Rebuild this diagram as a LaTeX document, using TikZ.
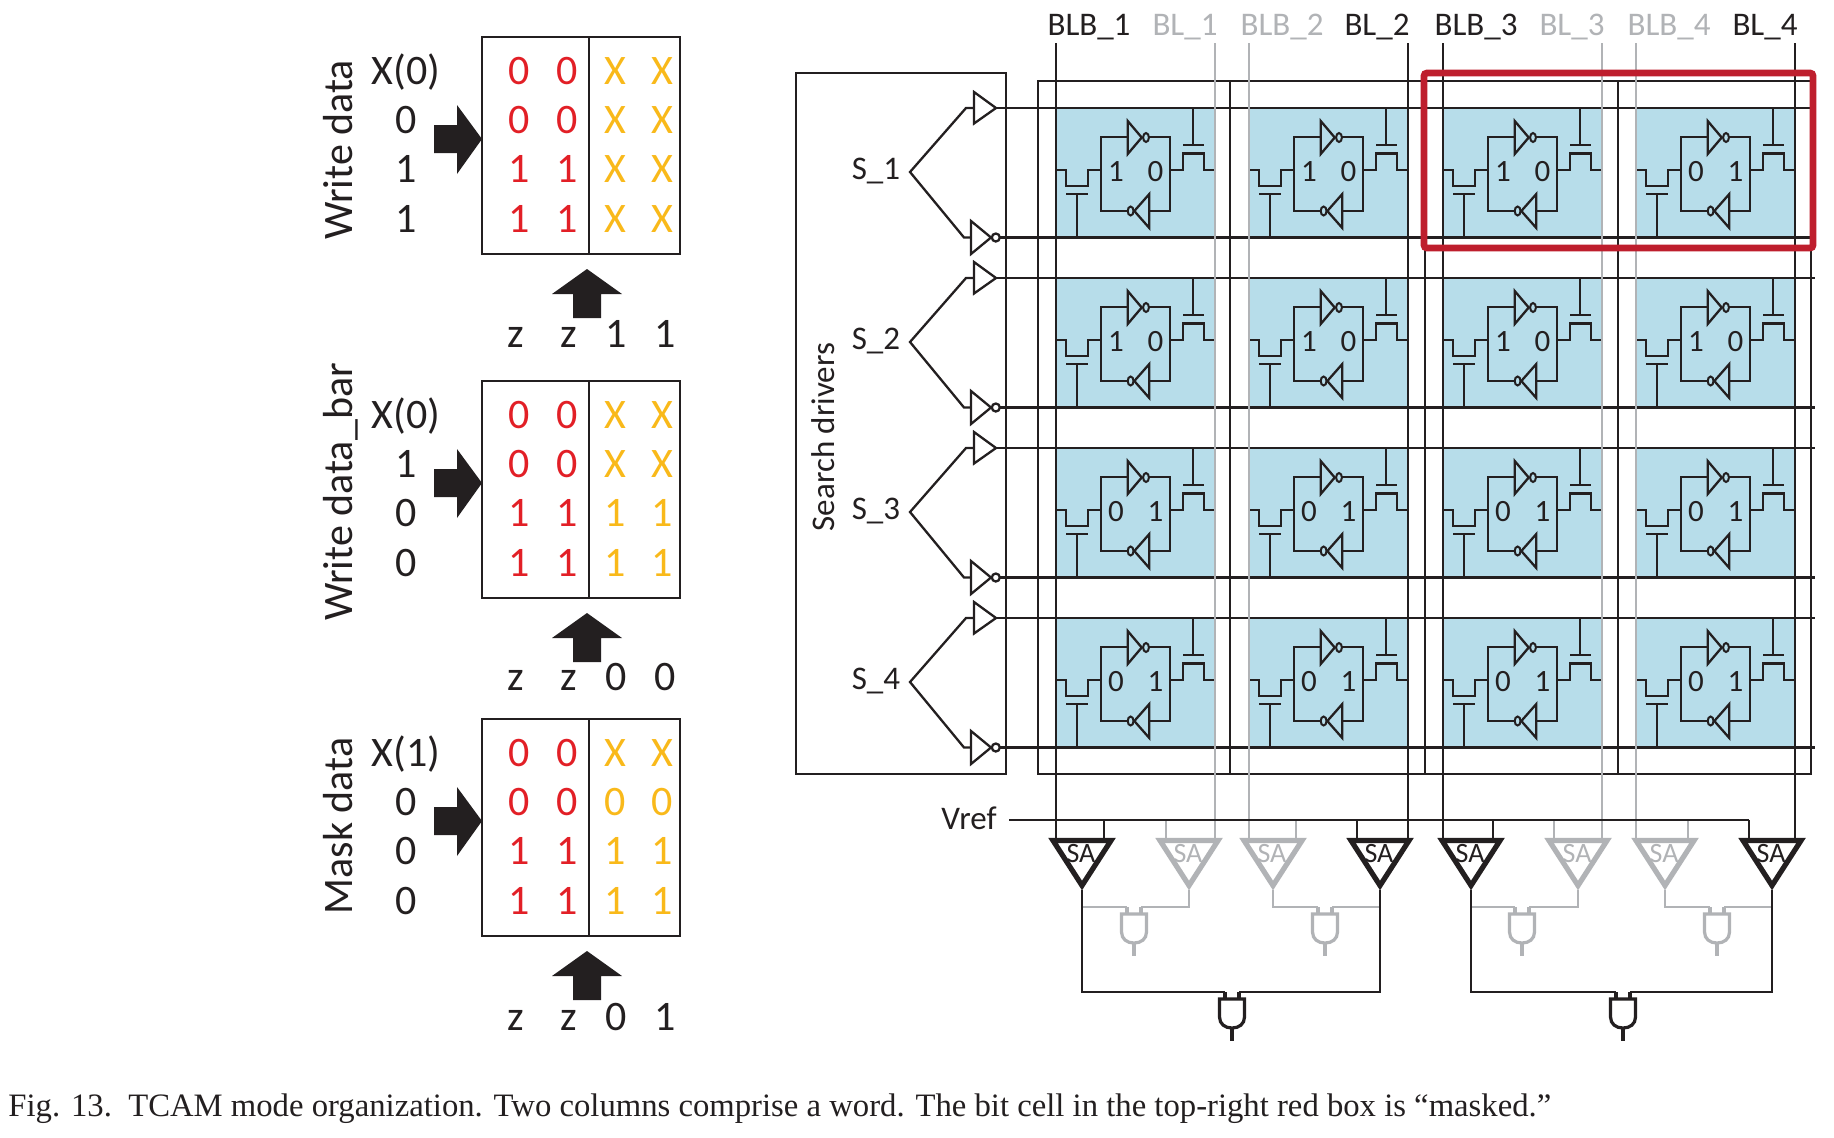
\documentclass[tikz,border=0pt]{standalone}
\usepackage{fontspec}
\setmainfont{Carlito}
\newfontfamily\capfont{Liberation Serif}
\definecolor{ink}{HTML}{231F20}
\definecolor{gr}{HTML}{B1B3B6}
\definecolor{cellblue}{HTML}{B7DDEA}
\definecolor{redbox}{HTML}{BE1E2D}
\definecolor{redtxt}{HTML}{E21F26}
\definecolor{yel}{HTML}{F9B91A}
\tikzset{
  wire/.style={draw=ink,line width=1.15pt},
  grwire/.style={draw=gr,line width=1.4pt},
  big/.style={font=\fontsize{21}{21}\selectfont,inner sep=0pt,anchor=base,text=ink},
  mid/.style={font=\fontsize{16.5}{16.5}\selectfont,inner sep=0pt,anchor=base,text=ink},
  small/.style={font=\fontsize{15.5}{15.5}\selectfont,inner sep=0pt,anchor=base,text=ink},
  satext/.style={font=\fontsize{14}{14}\selectfont,inner sep=0pt,anchor=center},
  block/.style={fill=ink,draw=none},
}
\newcommand{\bitcell}[5]{%
 \begin{scope}[shift={(#2,#3)}]
  \fill[cellblue] (0,0) rectangle (159,129.5);
  \draw[wire] (71.7,29) -- (45,29) -- (45,103) -- (71.8,103);
  \draw[wire] (93,29) -- (114,29) -- (114,103) -- (93.3,103);
  \draw[wire] (71.7,13) -- (71.7,46) -- (85.7,29.5) -- cycle;
  \draw[wire,line width=1pt] (90,29.5) ellipse [x radius=2.9,y radius=4.5];
  \draw[wire] (93.3,86) -- (93.3,120) -- (78.3,103) -- cycle;
  \draw[wire,line width=1pt] (74.6,103) ellipse [x radius=2.9,y radius=4.5];
  \draw[wire] (0,62) -- (10,62) -- (10,78) -- (32,78) -- (32,62) -- (45,62);
  \draw[wire] (10,86) -- (32,86) (21,86) -- (21,129.5);
  \draw[wire] (114,62) -- (127,62) -- (127,45.5) -- (148,45.5) -- (148,62) -- (158,62);
  \draw[wire] (127,37) -- (148,37) (137,37) -- (137,0);
  \node[small] (#1a) at (60,73) {#4};
  \node[small] (#1b) at (99.5,73) {#5};
 \end{scope}}
\newcommand{\driver}[3]{%
  \coordinate (d#1tail) at (910,#2+64);
  \coordinate (d#1up) at (966,#2);
  \coordinate (d#1upin) at (974,#2);
  \coordinate (d#1upout) at (996,#2);
  \coordinate (d#1lo) at (964,#2+129.5);
  \coordinate (d#1loin) at (971,#2+129.5);
  \coordinate (d#1loout) at (1000,#2+129.5);
  \coordinate (d#1upend) at (1815,#2);
  \coordinate (d#1loend) at (1815,#2+129.5);
  \node[mid] (s#1) at (876,#2+71) {#3};
  \draw[wire] (d#1upin) -- (d#1up) -- (d#1tail) -- (d#1lo) -- (d#1loin);
  \draw[wire] (974,#2-16) -- (974,#2+15.5) -- (d#1upout) -- cycle;
  \draw[wire] (971,#2+113) -- (971,#2+146) -- (991,#2+129.5) -- cycle;
  \draw[wire] (995.8,#2+129.5) circle (4);
  \draw[wire] (d#1upout) -- (d#1upend);
  \draw[wire] (d#1loout) -- (d#1loend);
}
% id, centre x, colour
\newcommand{\senseamp}[3]{%
  \draw[draw=#3,line width=2.6pt] (#2-29,840.5) -- (#2+29,840.5) -- (#2,885.5) -- cycle;
  \node[satext,text=#3] (#1txt) at (#2-1,853) {SA};
  \coordinate (#1out) at (#2,890);
}
% id, centre x, top y, colour
\newcommand{\andgate}[4]{%
  \coordinate (#1a) at (#2-7,#3-7);
  \coordinate (#1b) at (#2+7,#3-7);
  \draw[draw=#4,line width=1.6pt] (#2-7,#3-7) -- (#2-7,#3) (#2+7,#3-7) -- (#2+7,#3);
  \draw[draw=#4,line width=1.6pt] (#2-12.5,#3) -- (#2+12.5,#3) -- (#2+12.5,#3+18)
     .. controls (#2+12.5,#3+25) and (#2+7,#3+29) .. (#2,#3+29)
     .. controls (#2-7,#3+29) and (#2-12.5,#3+25) .. (#2-12.5,#3+18) -- cycle;
  \draw[draw=#4,line width=1.6pt] (#2,#3+29) -- (#2,#3+42);
}
% id, top, arrow-label baseline, left list, yellow list, bottom list
\newcommand{\datapanel}[6]{%
  \draw[wire] (482,#2) rectangle (680,#2+217);
  \draw[wire] (589,#2) -- (589,#2+217);
  \foreach \i/\s in {#4}
    \node[big] (#1l\i) at (406,{#2+47+49.4*\i}) {\s};
  \foreach \i/\a/\b in {0/0/0,1/0/0,2/1/1,3/1/1}{
    \node[big,text=redtxt] (#1r\i a) at (519,{#2+47+49.4*\i}) {\a};
    \node[big,text=redtxt] (#1r\i b) at (567,{#2+47+49.4*\i}) {\b};
  }
  \foreach \i/\a in {#5}{
    \node[big,text=yel] (#1y\i a) at (615,{#2+47+49.4*\i}) {\a};
    \node[big,text=yel] (#1y\i b) at (662,{#2+47+49.4*\i}) {\a};
  }
  \fill[block] (434,#2+88) -- (457,#2+88) -- (457,#2+68) -- (482,#2+102) -- (457,#2+137) -- (457,#2+116) -- (434,#2+116) -- cycle;
  \fill[block] (573,#2+281) -- (573,#2+257) -- (552,#2+257) -- (587,#2+232) -- (622,#2+257) -- (601,#2+257) -- (601,#2+281) -- cycle;
  \foreach \x/\s in {#6}
    \node[big] (#1b\x) at (\x,#3) {\s};
}
\begin{document}
\begin{tikzpicture}[x=0.5pt,y=-0.5pt]
\useasboundingbox (0,0) rectangle (1834,1137);
\fill[white] (0,0) rectangle (1834,1137);

% left panels
\datapanel{A}{37}{347}{0/X(0),1/0,2/1,3/1}{0/X,1/X,2/X,3/X}{516/z,569/z,616/1,665/1}
\datapanel{B}{381}{690}{0/X(0),1/1,2/0,3/0}{0/X,1/X,2/1,3/1}{516/z,569/z,616/0,665/0}
\datapanel{C}{719}{1030}{0/X(1),1/0,2/0,3/0}{0/X,1/0,2/1,3/1}{516/z,569/z,616/0,665/1}
\node[big,rotate=90] (tA) at (352,150) {Write data};
\node[big,rotate=90] (tB) at (352,492) {Write data\_bar};
\node[big,rotate=90] (tC) at (352,826) {Mask data};

% bit cells
\bitcell{r1c1}{1056}{108}{1}{0}
\bitcell{r1c2}{1249}{108}{1}{0}
\bitcell{r1c3}{1443}{108}{1}{0}
\bitcell{r1c4}{1636}{108}{0}{1}
\bitcell{r2c1}{1056}{278}{1}{0}
\bitcell{r2c2}{1249}{278}{1}{0}
\bitcell{r2c3}{1443}{278}{1}{0}
\bitcell{r2c4}{1636}{278}{1}{0}
\bitcell{r3c1}{1056}{448}{0}{1}
\bitcell{r3c2}{1249}{448}{0}{1}
\bitcell{r3c3}{1443}{448}{0}{1}
\bitcell{r3c4}{1636}{448}{0}{1}
\bitcell{r4c1}{1056}{618}{0}{1}
\bitcell{r4c2}{1249}{618}{0}{1}
\bitcell{r4c3}{1443}{618}{0}{1}
\bitcell{r4c4}{1636}{618}{0}{1}

% frames
\draw[wire] (796,73) rectangle (1006,774);
\draw[wire] (1038,81) rectangle (1811,774);
\draw[wire] (1230,81) -- (1230,774) (1425,81) -- (1425,774) (1618,81) -- (1618,774);
\node[mid,rotate=90] (sd) at (834,437) {Search drivers};

% drivers
\driver{1}{108}{S\_1}
\driver{2}{278}{S\_2}
\driver{3}{448}{S\_3}
\driver{4}{618}{S\_4}

% bit-line labels
\node[mid] (l1) at (1089,35) {BLB\_1};
\node[mid,text=gr] (l2) at (1185,35) {BL\_1};
\node[mid,text=gr] (l3) at (1282,35) {BLB\_2};
\node[mid] (l4) at (1377,35) {BL\_2};
\node[mid] (l5) at (1476,35) {BLB\_3};
\node[mid,text=gr] (l6) at (1572,35) {BL\_3};
\node[mid,text=gr] (l7) at (1669,35) {BLB\_4};
\node[mid] (l8) at (1765,35) {BL\_4};

% Vref
\node[mid] (vref) at (969,829) {Vref};
\coordinate (vs) at (1009,820);
\coordinate (ve) at (1749,820);

% gray inputs and outputs first
\foreach \x in {1166,1296,1554,1688}
  \draw[grwire] (\x,820) -- (\x,840);
\foreach \x in {1215,1249,1602,1636}
  \draw[grwire] (\x,43) -- (\x,840);
\foreach \x in {1104,1357,1493,1749}
  \draw[wire] (\x,820) -- (\x,840);
\foreach \x in {1056,1408,1443,1795}
  \draw[wire] (\x,43) -- (\x,840);
\draw[wire] (vs) -- (ve);

% sense amplifiers
\senseamp{sa1}{1082}{ink}
\senseamp{sa2}{1189}{gr}
\senseamp{sa3}{1273}{gr}
\senseamp{sa4}{1380}{ink}
\senseamp{sa5}{1471}{ink}
\senseamp{sa6}{1578}{gr}
\senseamp{sa7}{1665}{gr}
\senseamp{sa8}{1772}{ink}

% and gates
\andgate{g1}{1134}{914}{gr}
\andgate{g2}{1325}{914}{gr}
\andgate{g3}{1522}{914}{gr}
\andgate{g4}{1717}{914}{gr}
\andgate{g5}{1232}{999}{ink}
\andgate{g6}{1623}{999}{ink}

\draw[grwire] (sa1out) |- (g1a);
\draw[grwire] (sa2out) |- (g1b);
\draw[grwire] (sa3out) |- (g2a);
\draw[grwire] (sa4out) |- (g2b);
\draw[grwire] (sa5out) |- (g3a);
\draw[grwire] (sa6out) |- (g3b);
\draw[grwire] (sa7out) |- (g4a);
\draw[grwire] (sa8out) |- (g4b);
\draw[wire,line width=1.3pt] (sa1out) |- (g5a);
\draw[wire,line width=1.3pt] (sa4out) |- (g5b);
\draw[wire,line width=1.3pt] (sa5out) |- (g6a);
\draw[wire,line width=1.3pt] (sa8out) |- (g6b);

% red box
\draw[redbox,line width=3.4pt,rounded corners=1.5pt] (1424,73) rectangle (1813,248);

% caption
\node[inner sep=0pt,anchor=base west,text=ink,font=\fontsize{16.35}{16.35}\selectfont\capfont] (cap) at (8,1116)
  {Fig. 13.\ \ TCAM mode organization. Two columns comprise a word. The bit cell in the top-right red box is “masked.”};
\end{tikzpicture}
\end{document}
